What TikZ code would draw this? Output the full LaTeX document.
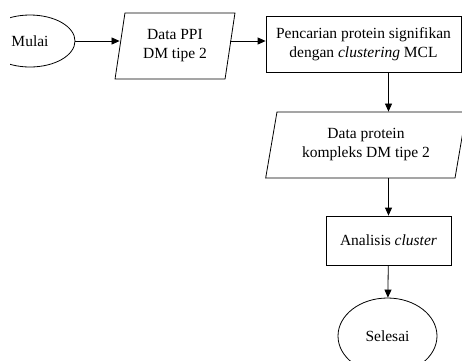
\documentclass[tikz,border=0pt]{standalone}
\usepackage{fontspec}
\setmainfont{Liberation Serif}
\usetikzlibrary{shapes.geometric}
\usetikzlibrary{calc}
\usetikzlibrary{positioning, arrows.meta}

\begin{document}
\begin{tikzpicture}[x=1pt, y=-1pt, line width=0.8pt, >={Triangle[length=8pt, width=7pt]}]
        % Define styles for shapes
        \tikzstyle{terminal} = [draw, ellipse, inner sep=0pt]
        \tikzstyle{proses} = [draw, rectangle, inner sep=0pt, align=center]
        \tikzstyle{dataio} = [draw, trapezium, trapezium stretches=true, inner sep=0pt, align=center]
        \useasboundingbox (0,0) rectangle (462,360);
        \clip (10,0) rectangle (462,360);
        \fontsize{15.5}{19}\selectfont
        % Draw shapes
        \node[terminal, minimum width=90pt, minimum height=52pt] (mulai) at (30, 41) {Mulai};
        \node[dataio, trapezium left angle=79, trapezium right angle=101,
              minimum width=120pt, minimum height=66pt] (datappi) at (175, 46) {Data PPI\\DM tipe 2};
        \node[proses, minimum width=195pt, minimum height=56pt] (pencarian) at (363.5, 44) {
            Pencarian protein signifikan\\dengan \textit{clustering} MCL};
        % data protein kompleks under the process
        \node[dataio, trapezium left angle=76, trapezium right angle=104,
              minimum width=201pt, minimum height=66pt] (dataprotein) at (366, 145) {
            Data protein\\kompleks DM tipe 2};
        \node[proses, minimum width=125pt, minimum height=49pt] (analisis) at (388.5, 240.5) {Analisis \textit{cluster}};
        \node[terminal, minimum width=99pt, minimum height=76pt] (selesai) at (387.5, 336) {Selesai};

        % Draw arrows
        \draw[->] (mulai.east) -- (mulai.east -| datappi.west);
        \draw[->] (datappi.east |- mulai.east) -- (pencarian.west |- mulai.east);
        % vertical line on the right
        \draw[->] (analisis.north |- pencarian.south) -- (analisis.north |- dataprotein.north);
        \draw[->] (analisis.north |- dataprotein.south) -- (analisis.north);
        \draw[->] (analisis) -- (selesai);
\end{tikzpicture}
\end{document}
